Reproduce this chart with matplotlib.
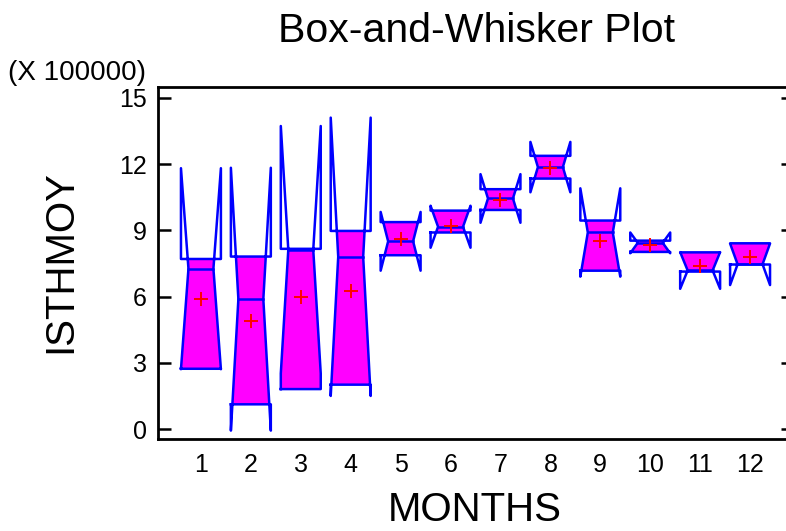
import matplotlib
matplotlib.use("Agg")
import matplotlib.pyplot as plt
from matplotlib.patches import Polygon

plt.rcParams['font.family'] = ['Liberation Sans', 'DejaVu Sans']

# monthly values, units of 100000
months = [1, 2, 3, 4, 5, 6, 7, 8, 9, 10, 11, 12]
q1 = [2.73, 1.12, 1.81, 2.01, 7.87, 8.90, 9.92, 11.34, 7.17, 8.02, 7.13, 7.45]
med = [7.26, 5.88, 8.12, 7.80, 8.50, 9.16, 10.44, 11.86, 8.90, 8.43, 7.18, 7.46]
q3 = [7.70, 7.81, 8.16, 8.97, 9.37, 9.89, 10.86, 12.37, 9.44, 8.53, 8.00, 8.41]
notch = [4.55, 5.95, 5.60, 6.30, 1.33, 0.95, 1.10, 1.14, 2.00, 0.47, 0.83, 0.94]
means = [5.89, 4.89, 5.97, 6.25, 8.61, 9.20, 10.38, 11.84, 8.52, 8.34, 7.39, 7.78]

half = 0.40   # half box width
inner = 0.25  # half width at the median

fig = plt.figure(figsize=(7.86, 5.31), dpi=100)
ax = fig.add_axes([158 / 786, 1 - 439 / 531, 635 / 786, 352.3 / 531])


def width_at(y, m, n):
    return inner + (half - inner) * min(1.0, abs(y - m) / n)


for x, a, m, b, n, mu in zip(months, q1, med, q3, notch, means):
    lo, hi = m - n, m + n
    # filled part, only between the quartiles
    ys = sorted({a, min(max(lo, a), b), m, min(max(hi, a), b), b})
    left = [(x - width_at(y, m, n), y) for y in ys]
    right = [(x + width_at(y, m, n), y) for y in reversed(ys)]
    ax.add_patch(Polygon(left + right, closed=True, facecolor='#ff00ff',
                         edgecolor='none', zorder=2))
    # outline of the notched box
    ox = [x - half, x - half, x - inner, x - half, x - half,
          x + half, x + half, x + inner, x + half, x + half, x - half]
    oy = [a, lo, m, hi, b, b, hi, m, lo, a, a]
    ax.plot(ox, oy, color='#0000ff', lw=1.8, zorder=3)
    ax.plot([x - inner, x + inner], [m, m], color='#0000ff', lw=1.8, zorder=3)
    ax.plot(x, mu, '+', color='red', ms=10, mew=1.4, zorder=4)

ax.set_xlim(0.14, 12.86)
ax.set_ylim(-0.45, 15.5)
ax.set_xticks(months)
ax.set_xticklabels([str(m) for m in months])
ax.set_yticks([0, 3, 6, 9, 12, 15])
ax.tick_params(axis='x', length=0, labelsize=18, pad=10)
ax.tick_params(axis='y', direction='in', length=9, width=1.8, labelsize=18,
               pad=8, right=True)
for s in ax.spines.values():
    s.set_linewidth(2)

fig.text(476 / 786, 1 - 31 / 531, 'Box-and-Whisker Plot', ha='center',
         va='center', fontsize=29.5)
fig.text(8 / 786, 1 - 73 / 531, '(X 100000)', ha='left', va='center',
         fontsize=20)
fig.text(475 / 786, 1 - 510 / 531, 'MONTHS', ha='center', va='center',
         fontsize=29)
fig.text(60 / 786, 1 - 262 / 531, 'ISTHMOY', ha='center', va='center',
         rotation=90, fontsize=29)

fig.savefig('out.png', dpi=100)
